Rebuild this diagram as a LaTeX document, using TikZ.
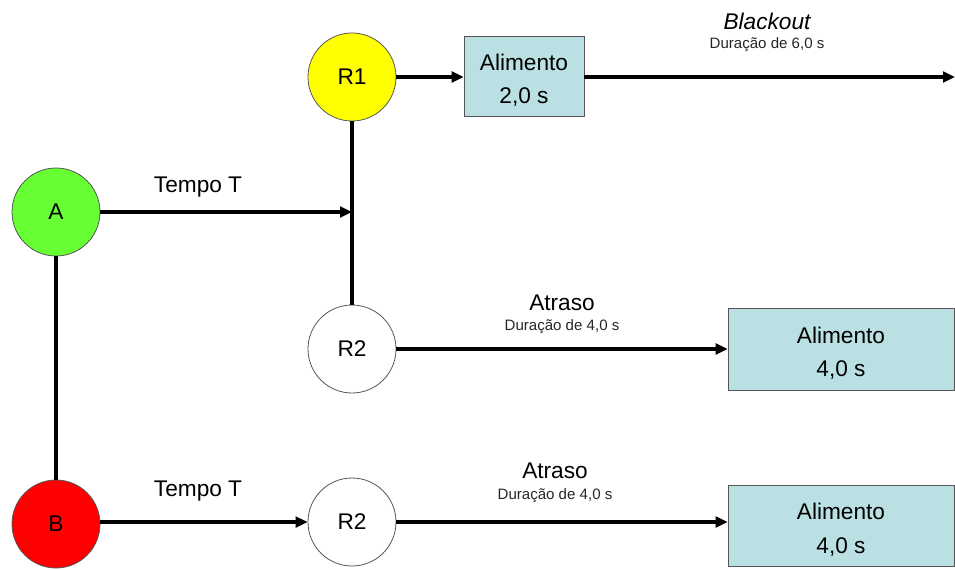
\documentclass[tikz,border=0pt]{standalone}
\usepackage{fontspec}
\setmainfont{Liberation Sans}
\usetikzlibrary{arrows.meta}
\definecolor{boxfill}{HTML}{BBE0E3}
\definecolor{agreen}{HTML}{66FF33}
\definecolor{bred}{HTML}{FF0000}
\definecolor{ryellow}{HTML}{FFFF00}
\definecolor{edgegray}{HTML}{555555}
% first line of a box, pushed slightly down inside the box
\newcommand{\boxtop}[1]{\rule{0pt}{18.5pt}#1}
\tikzset{
  x=0.75pt, y=-0.75pt,
  state/.style={circle, draw=edgegray, line width=0.6pt, minimum size=66pt, inner sep=0pt,
    font=\fontsize{17pt}{20pt}\selectfont},
  foodbox/.style={rectangle, draw=edgegray, line width=0.6pt, fill=boxfill, align=center,
    inner sep=0pt, font=\fontsize{17pt}{25pt}\selectfont},
  conn/.style={line width=2.5pt, -{Triangle[length=9pt,width=8pt]}},
  plain/.style={line width=2.5pt},
  biglabel/.style={inner sep=0pt, font=\fontsize{17pt}{20pt}\selectfont},
  smalllabel/.style={inner sep=0pt, font=\fontsize{11.3pt}{13pt}\selectfont, text=black!85},
}
\begin{document}
\begin{tikzpicture}
\useasboundingbox (0,0) rectangle (955,570);

% states
\node[state, fill=agreen]  (A)  at (56,212) {A};
\node[state, fill=bred]    (B)  at (56,524) {B};
\node[state, fill=ryellow] (R1) at (352,77)  {R1};
\node[state, fill=white]   (R2a) at (352,349) {R2};
\node[state, fill=white]   (R2b) at (352,522) {R2};

% food boxes
\node[foodbox, minimum width=90pt, minimum height=60pt] (F1) at (524,76) {\boxtop{Alimento}\\2,0 s};
\node[foodbox, minimum width=169.5pt, minimum height=61.5pt] (F2) at (841,349) {\boxtop{Alimento}\\4,0 s};
\node[foodbox, minimum width=169.5pt, minimum height=60.75pt] (F3) at (841,525.5) {\boxtop{Alimento}\\4,0 s};

% junction and free end
\coordinate (J) at (352,212);
\coordinate (E) at (955,77);

% connectors
\draw[plain] (R1) -- (R2a);
\draw[plain] (A) -- (B);
\draw[conn] (A) -- (J);
\draw[conn] (R1) -- (R1 -| F1.west);
\draw[conn] (F1.east |- E) -- (E);
\draw[conn] (R2a) -- (R2a -| F2.west);
\draw[conn] (B.east |- R2b) -- (R2b);
\draw[conn] (R2b) -- (R2b -| F3.west);

% labels
\node[biglabel] (tA) at (198,187) {Tempo T};
\node[biglabel] (tB) at (198,491) {Tempo T};
\node[biglabel] (bo) at (767,21) {\itshape Blackout};
\node[smalllabel] (bod) at (767,45) {Duração de 6,0 s};
\node[biglabel] (at1) at (562,303) {Atraso};
\node[smalllabel] (at1d) at (562,327) {Duração de 4,0 s};
\node[biglabel] (at2) at (555,471) {Atraso};
\node[smalllabel] (at2d) at (555,496) {Duração de 4,0 s};
\end{tikzpicture}
\end{document}
